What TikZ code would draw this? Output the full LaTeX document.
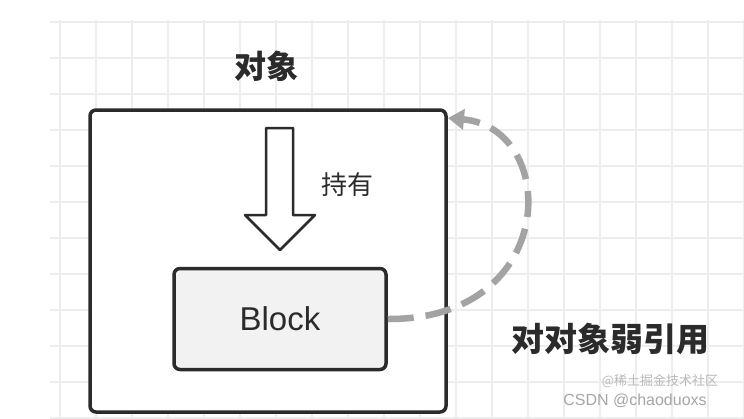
\documentclass[tikz,border=0pt]{standalone}
\usepackage{fontspec}
\setmainfont{Liberation Sans}
\newfontfamily\cjk{Noto Sans CJK SC}
\usetikzlibrary{arrows.meta}
\definecolor{gridc}{HTML}{EDEDED}
\definecolor{dk}{HTML}{2B2B2B}
\definecolor{dashc}{HTML}{A3A3A3}
\tikzset{
  box/.style={draw=dk, line width=3.5pt, rounded corners=6pt},
  lbl/.style={font=\cjk\bfseries\fontsize{32}{34}\selectfont, text=dk},
}
\begin{document}
\begin{tikzpicture}[x=1pt,y=-1pt]
\useasboundingbox (0,0) rectangle (744,418);
\fill[white] (0,0) rectangle (744,418);
\foreach \x in {60,96,...,744} \draw[gridc, line width=1.2pt] (\x,20) -- (\x,418);
\foreach \y in {22,58,...,418} \draw[gridc, line width=1.2pt] (50,\y) -- (744,\y);
\node[lbl] (obj) at (266,66) {对象};
\draw[box, fill=white] (90,110) rectangle (446,412);
\coordinate (otr) at (448,118);
\draw[dk, line width=2.5pt, line join=round, fill=white]
  (266,128) -- (293,128) -- (293,215) -- (315,215) -- (280,250) -- (245,215) -- (266,215) -- cycle;
\node[font=\cjk\fontsize{26}{28}\selectfont, text=dk] (hold) at (347,185) {持有};
\node[box, fill={rgb,255:red,242;green,242;blue,242}, minimum width=212pt, minimum height=101pt, font=\fontsize{33}{35}\selectfont, text=dk] (blk) at (280,319) {Block};
\draw[dashc, line width=6.5pt, dash pattern=on 26pt off 12pt, -{Triangle[length=16pt,width=20pt]}]
  (blk.east) .. controls (560,320) and (560,128) .. (otr);
\node[lbl, font=\cjk\bfseries\fontsize{33}{35}\selectfont] (weak) at (610,339) {对对象弱引用};
\node[text=gray!70, font=\fontsize{16}{18}\selectfont] (wm1) at (635,401) {CSDN @chaoduoxs};
\node[text=gray!55, font=\cjk\fontsize{13}{15}\selectfont] (wm2) at (660,381) {@稀土掘金技术社区};
\end{tikzpicture}
\end{document}
